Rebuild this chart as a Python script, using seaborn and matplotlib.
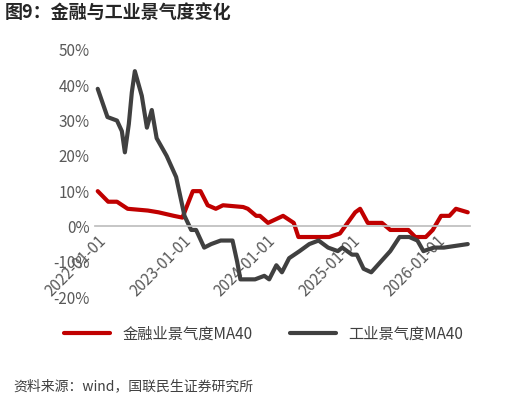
import matplotlib
matplotlib.use("Agg")
import matplotlib.pyplot as plt
import seaborn as sns
import pandas as pd

sns.set_theme(style="white")
plt.rcParams['font.family'] = ['Noto Sans CJK SC', 'DejaVu Sans']

fin_dates = ["2022-01-01","2022-02-15","2022-03-25","2022-05-10","2022-08-05","2022-09-20","2022-11-25","2023-01-01",
             "2023-02-15","2023-03-20","2023-04-20","2023-05-25","2023-06-25","2023-09-20","2023-10-10","2023-11-15",
             "2023-12-01","2024-01-05","2024-03-10","2024-04-25","2024-05-15","2024-09-25","2024-11-10","2025-01-15",
             "2025-02-05","2025-03-10","2025-05-10","2025-06-15","2025-09-01","2025-10-01","2025-11-15","2025-12-15",
             "2026-01-20","2026-02-25","2026-03-25","2026-05-15"]
fin_vals = [10,7,7,5,4.5,4,3,2.5,10,10,6,5,6,5.5,5,3,3,1,3,1,-3,-3,-2,4,5,1,1,-1,-1,-3,-3,-1,3,3,5,4]

ind_dates = ["2022-01-01","2022-01-22","2022-02-12","2022-03-25","2022-04-15","2022-04-28","2022-05-15","2022-05-28",
             "2022-06-10","2022-07-10","2022-08-01","2022-08-22","2022-09-12","2022-10-25","2022-12-05","2023-01-10",
             "2023-02-08","2023-03-01","2023-04-05","2023-05-05","2023-06-15","2023-08-05","2023-08-25","2023-09-08",
             "2023-11-10","2023-12-20","2024-01-10","2024-02-10","2024-03-05","2024-04-05","2024-05-20","2024-07-01",
             "2024-08-10","2024-09-20","2024-11-01","2024-11-20","2025-01-01","2025-01-22","2025-02-20","2025-03-25",
             "2025-05-05","2025-06-15","2025-07-25","2025-09-05","2025-10-10","2025-11-05","2025-12-20","2026-02-01",
             "2026-05-15"]
ind_vals = [39,35,31,30,27,21,29,38,44,37,28,33,25,20,14,3,-1,-1,-6,-5,-4,-4,-10,-15,-15,-14,-15,-11,-13,-9,-7,-5,
            -4,-6,-7,-6,-8,-8,-12,-13,-10,-7,-3,-3,-4,-7,-6,-6,-5]

tick_dates = ["2022-01-01","2023-01-01","2024-01-01","2025-01-01","2026-01-01"]
yticks = [-20,-10,0,10,20,30,40,50]

fin = pd.DataFrame({"date": pd.to_datetime(fin_dates), "v": fin_vals})
ind = pd.DataFrame({"date": pd.to_datetime(ind_dates), "v": ind_vals})

fig = plt.figure(figsize=(5.16, 4.0), dpi=100)
ax = fig.add_axes([0.184, 0.2575, 0.727, 0.6175])
sns.lineplot(data=fin, x="date", y="v", ax=ax, color="#C00000", lw=3, label="金融业景气度MA40")
sns.lineplot(data=ind, x="date", y="v", ax=ax, color="#404040", lw=3, label="工业景气度MA40")

ax.set_ylim(-20, 50)
ax.set_xlim(pd.Timestamp("2021-12-20"), pd.Timestamp("2026-05-25"))
ax.set_yticks(yticks)
ax.set_yticklabels([f"{t}%" for t in yticks], color="#595959", fontsize=11)
ax.set_xticks(pd.to_datetime(tick_dates))
ax.set_xticklabels(tick_dates)
ax.tick_params(axis="both", length=0, pad=4)
for s in ["top", "right", "left"]:
    ax.spines[s].set_visible(False)
ax.spines["bottom"].set_position(("data", 0))
ax.spines["bottom"].set_color("#BFBFBF")
ax.set_xlabel("")
ax.set_ylabel("")
plt.setp(ax.get_xticklabels(), rotation=45, ha="right", rotation_mode="anchor", color="#595959", fontsize=11)
ax.legend(loc="upper center", bbox_to_anchor=(0.45, -0.06, 0, 0), bbox_transform=ax.transAxes, ncol=2, frameon=False,
          fontsize=11, handlelength=3, columnspacing=2.5, labelcolor="#404040")

fig.text(0.01, 0.955, "图9：金融与工业景气度变化", fontsize=13, fontweight="bold", color="#262626")
fig.text(0.025, 0.025, "资料来源：wind，国联民生证券研究所", fontsize=10, color="#404040")
fig.savefig("out.png", dpi=100)
